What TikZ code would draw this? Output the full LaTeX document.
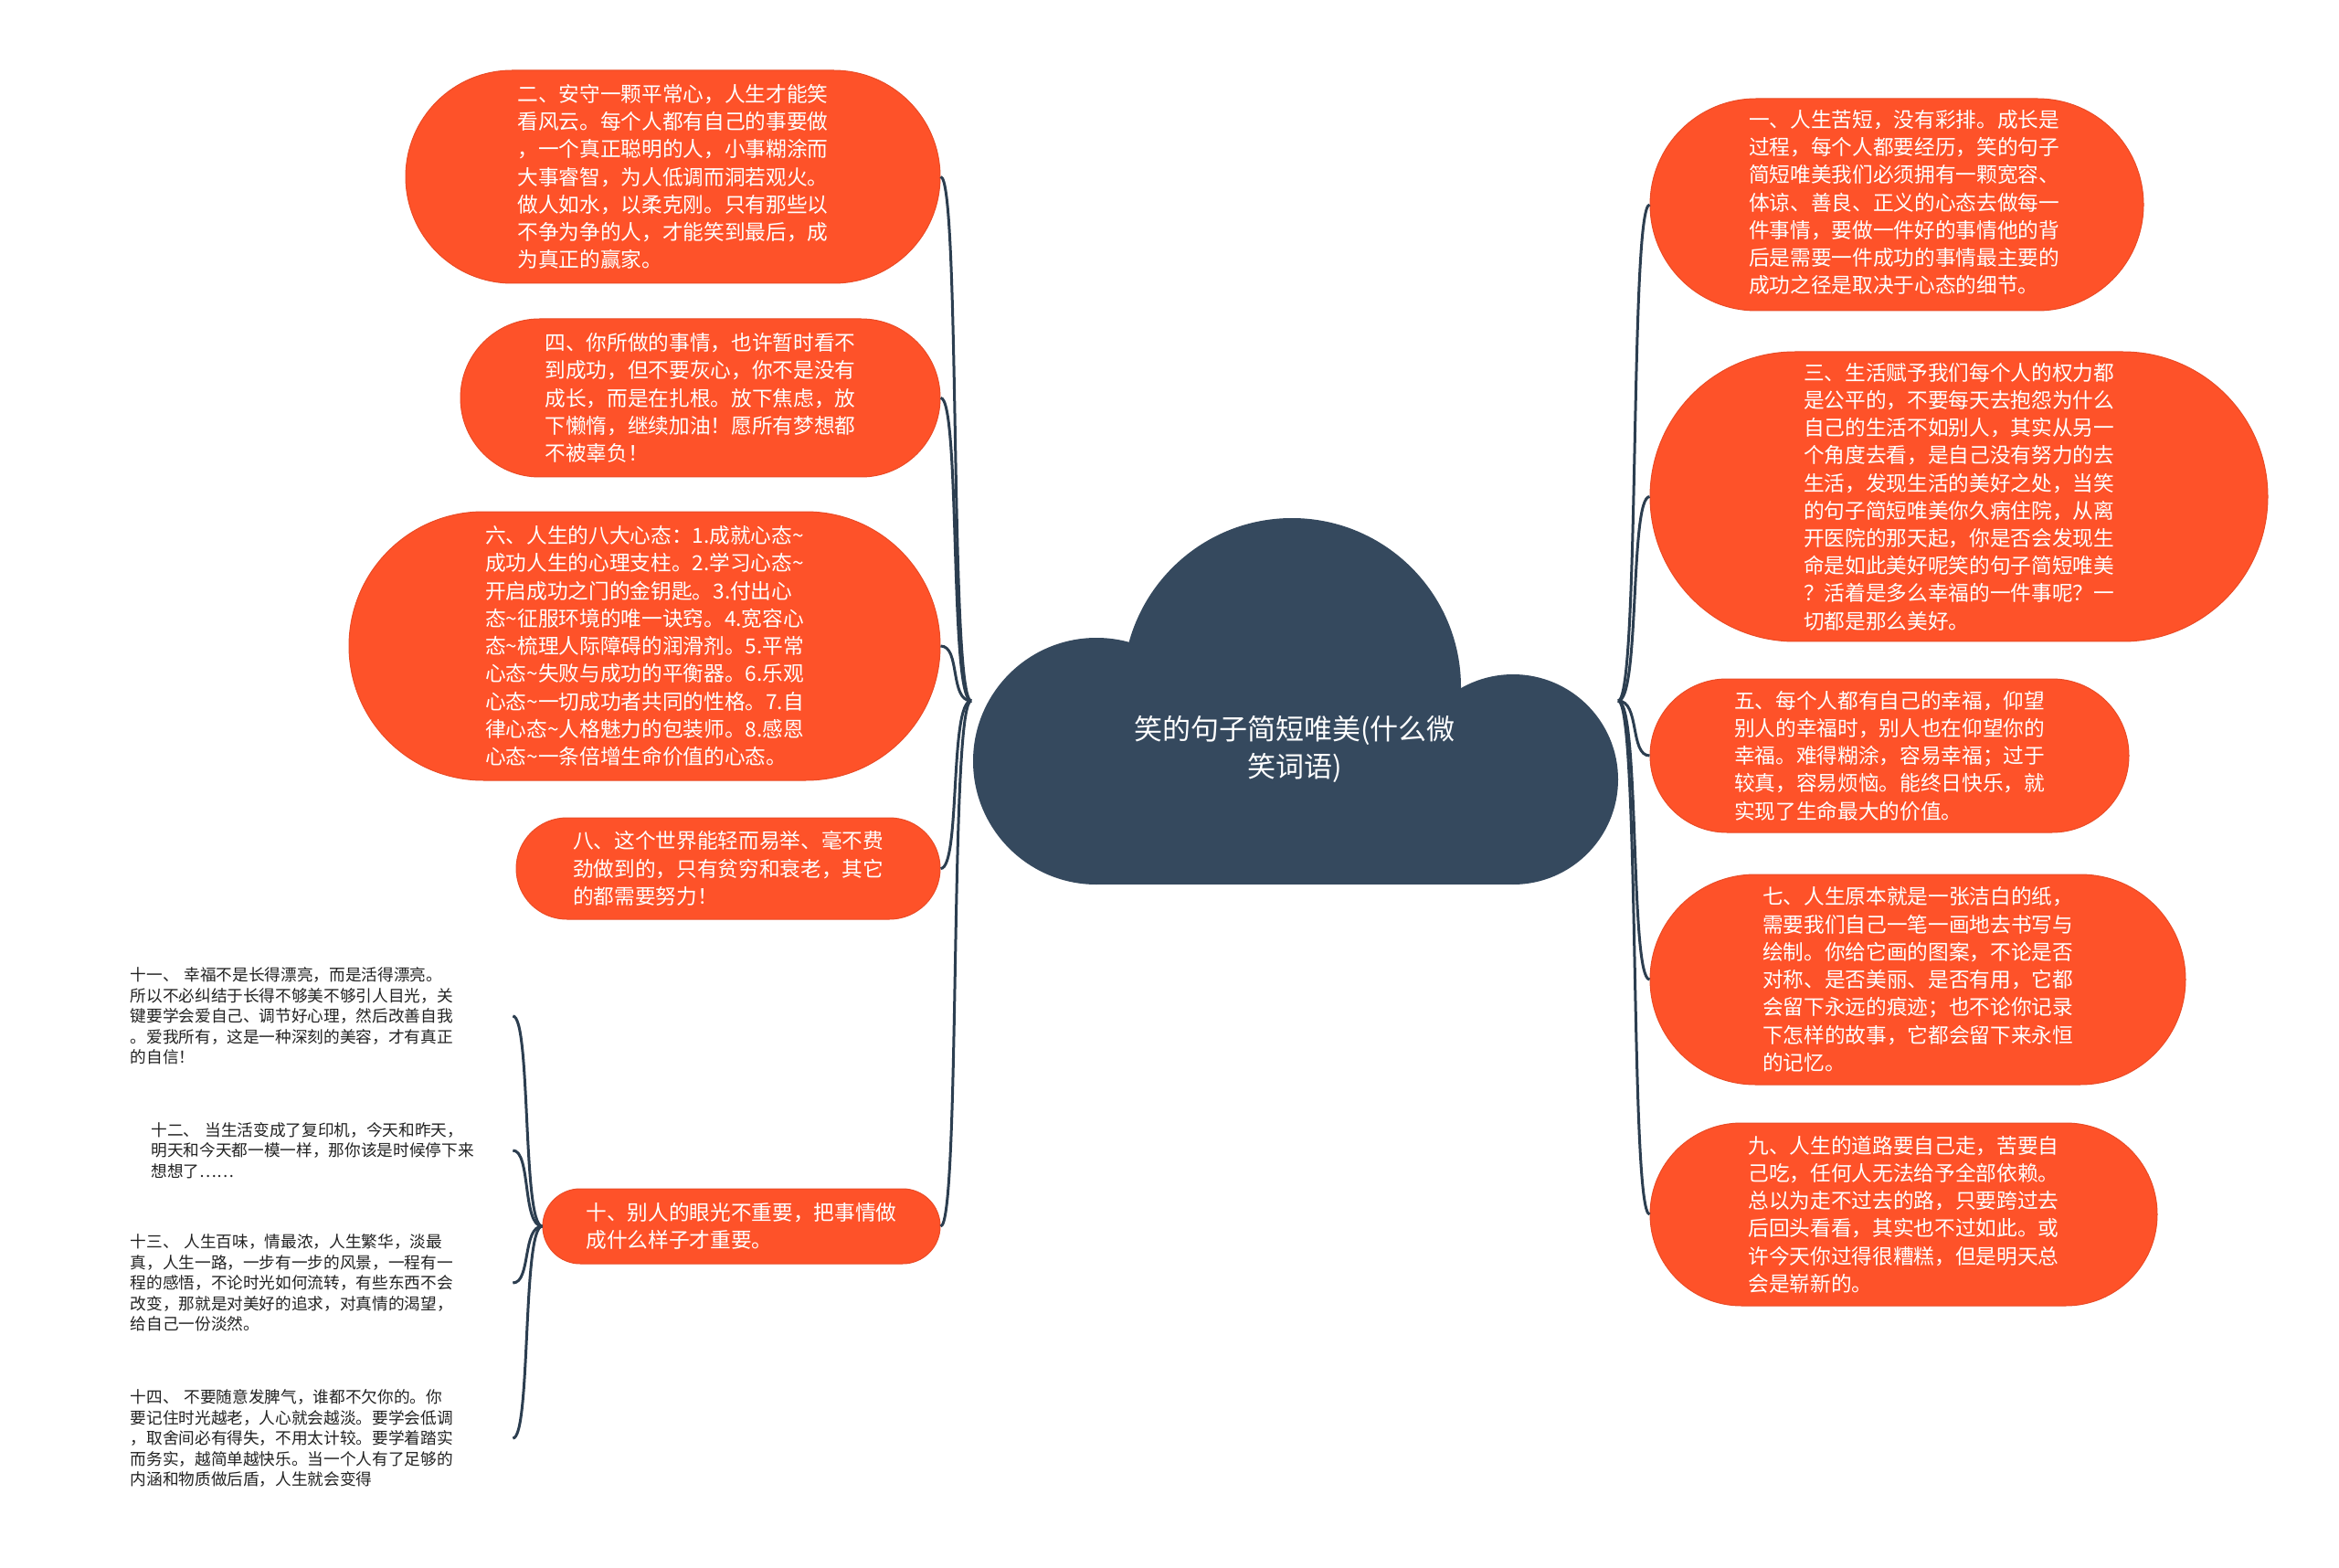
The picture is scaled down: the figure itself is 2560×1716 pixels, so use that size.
\documentclass[tikz,border=0pt]{standalone}
\usepackage{fontspec}
\setmainfont{Noto Sans CJK SC}
\usetikzlibrary{shapes.misc}
\definecolor{orng}{HTML}{FE5229}
\definecolor{cloudc}{HTML}{35495E}
\definecolor{linec}{HTML}{2C3E50}
\definecolor{smalltext}{HTML}{222222}
\tikzset{
  obox/.style={rounded rectangle, fill=orng, draw=orng!92!black, line width=0.3pt,
    text=white, align=left, inner sep=0pt, font=\fontsize{6.8pt}{9.07pt}\selectfont},
  smalltxt/.style={text=smalltext, align=left, inner xsep=0pt, inner ysep=0pt, anchor=west,
    font=\fontsize{5.3pt}{6.76pt}\selectfont},
  link/.style={draw=linec, line width=0.9pt},
}
\begin{document}
\begin{tikzpicture}[x=0.3pt,y=-0.3pt]
\useasboundingbox[fill=white] (0,0) rectangle (2560,1716);

% ---- boxes (left)
\node[obox, minimum width=175.5pt, minimum height=69.9pt] (b2) at (736.5,193.5)
 {二、安守一颗平常心，人生才能笑\\看风云。每个人都有自己的事要做\\，一个真正聪明的人，小事糊涂而\\大事睿智，为人低调而洞若观火。\\做人如水，以柔克刚。只有那些以\\不争为争的人，才能笑到最后，成\\为真正的赢家。};
\node[obox, minimum width=157.5pt, minimum height=51.9pt] (b4) at (766.5,435.5)
 {四、你所做的事情，也许暂时看不\\到成功，但不要灰心，你不是没有\\成长，而是在扎根。放下焦虑，放\\下懒惰，继续加油！愿所有梦想都\\不被辜负！};
\node[obox, minimum width=194.1pt, minimum height=88.2pt] (b6) at (705.5,707)
 {六、人生的八大心态：1.成就心态\textasciitilde\\成功人生的心理支柱。2.学习心态\textasciitilde\\开启成功之门的金钥匙。3.付出心\\态\textasciitilde 征服环境的唯一诀窍。4.宽容心\\态\textasciitilde 梳理人际障碍的润滑剂。5.平常\\心态\textasciitilde 失败与成功的平衡器。6.乐观\\心态\textasciitilde 一切成功者共同的性格。7.自\\律心态\textasciitilde 人格魅力的包装师。8.感恩\\心态\textasciitilde 一条倍增生命价值的心态。};
\node[obox, minimum width=139.2pt, minimum height=33.3pt] (b8) at (797,950.5)
 {八、这个世界能轻而易举、毫不费\\劲做到的，只有贫穷和衰老，其它\\的都需要努力！};
\node[obox, minimum width=130.5pt, minimum height=24.6pt] (b10) at (811.5,1342)
 {十、别人的眼光不重要，把事情做\\成什么样子才重要。};

% ---- boxes (right)
\node[obox, minimum width=162pt, minimum height=69.6pt] (b1) at (2076,224)
 {\hspace*{4.8pt}\begin{tabular}{@{}l@{}}一、人生苦短，没有彩排。成长是\\过程，每个人都要经历，笑的句子\\简短唯美我们必须拥有一颗宽容、\\体谅、善良、正义的心态去做每一\\件事情，要做一件好的事情他的背\\后是需要一件成功的事情最主要的\\成功之径是取决于心态的细节。\end{tabular}};
\node[obox, minimum width=202.8pt, minimum height=95.1pt] (b3) at (2144,543.5)
 {三、生活赋予我们每个人的权力都\\是公平的，不要每天去抱怨为什么\\自己的生活不如别人，其实从另一\\个角度去看，是自己没有努力的去\\生活，发现生活的美好之处，当笑\\的句子简短唯美你久病住院，从离\\开医院的那天起，你是否会发现生\\命是如此美好呢笑的句子简短唯美\\？活着是多么幸福的一件事呢？一\\切都是那么美好。};
\node[obox, minimum width=157.2pt, minimum height=50.4pt] (b5) at (2068,827)
 {五、每个人都有自己的幸福，仰望\\别人的幸福时，别人也在仰望你的\\幸福。难得糊涂，容易幸福；过于\\较真，容易烦恼。能终日快乐，就\\实现了生命最大的价值。};
\node[obox, minimum width=175.8pt, minimum height=69pt] (b7) at (2099,1072)
 {七、人生原本就是一张洁白的纸，\\需要我们自己一笔一画地去书写与\\绘制。你给它画的图案，不论是否\\对称、是否美丽、是否有用，它都\\会留下永远的痕迹；也不论你记录\\下怎样的故事，它都会留下来永恒\\的记忆。};
\node[obox, minimum width=166.5pt, minimum height=60pt] (b9) at (2083.5,1329)
 {九、人生的道路要自己走，苦要自\\己吃，任何人无法给予全部依赖。\\总以为走不过去的路，只要跨过去\\后回头看看，其实也不过如此。或\\许今天你过得很糟糕，但是明天总\\会是崭新的。};

% ---- small texts
\node[smalltxt, text width=125.4pt] (t11) at (142,1112)
 {十一、 幸福不是长得漂亮，而是活得漂亮。\\所以不必纠结于长得不够美不够引人目光，关\\键要学会爱自己、调节好心理，然后改善自我\\。爱我所有，这是一种深刻的美容，才有真正\\的自信！};
\node[smalltxt, text width=118.5pt] (t12) at (165,1259)
 {十二、 当生活变成了复印机，今天和昨天，\\明天和今天都一模一样，那你该是时候停下来\\想想了……};
\node[smalltxt, text width=125.4pt] (t13) at (142,1404)
 {十三、 人生百味，情最浓，人生繁华，淡最\\真，人生一路，一步有一步的风景，一程有一\\程的感悟，不论时光如何流转，有些东西不会\\改变，那就是对美好的追求，对真情的渴望，\\给自己一份淡然。};
\node[smalltxt, text width=125.4pt] (t14) at (142,1574)
 {十四、 不要随意发脾气，谁都不欠你的。你\\要记住时光越老，人心就会越淡。要学会低调\\，取舍间必有得失，不用太计较。要学着踏实\\而务实，越简单越快乐。当一个人有了足够的\\内涵和物质做后盾，人生就会变得};

% ---- connectors
\coordinate (rl) at (1063,767);
\coordinate (rr) at (1771,767);
\foreach \b in {b2,b4,b6,b8,b10}
  \draw[link] (rl) .. controls +(-24,0) and +(22,0) .. (\b.east);
\foreach \b in {b1,b3,b5,b7,b9}
  \draw[link] (rr) .. controls +(24,0) and +(-22,0) .. (\b.west);
\foreach \t in {t11,t12,t13,t14}
  \draw[link] (b10.west) .. controls +(-22,0) and +(20,0) .. (\t.east);

% ---- central cloud
\fill[cloudc] (1200,833) circle[radius=135];
\fill[cloudc] (1414,752) circle[radius=185];
\fill[cloudc] (1656,853) circle[radius=115];
\fill[cloudc] (1200,800) rectangle (1656,968);
\node[text=white, align=center, font=\fontsize{9.3pt}{12.3pt}\selectfont] (root) at (1417,820)
 {笑的句子简短唯美(什么微\\笑词语)};
\end{tikzpicture}
\end{document}
